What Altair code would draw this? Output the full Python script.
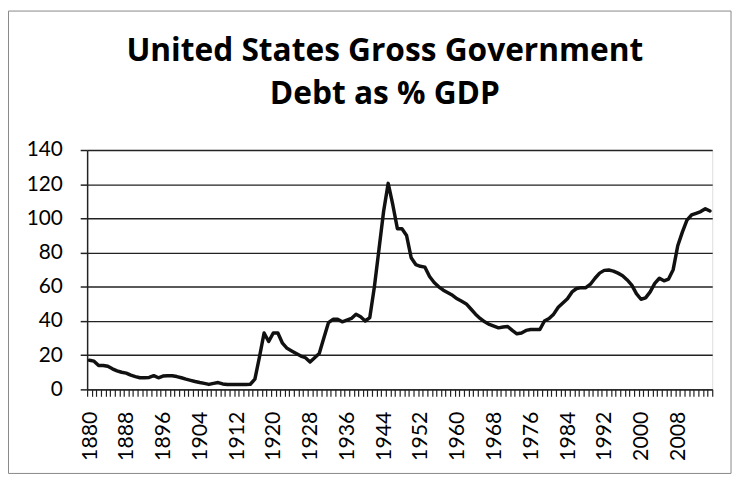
import altair as alt
import pandas as pd

years = list(range(1880, 2016))
debt = [
    17, 16.5, 14, 14, 13.5, 12, 10.8, 10, 9.5, 8.3,          # 1880-1889
    7.5, 6.8, 6.8, 7, 8, 6.8, 7.8, 8, 8, 7.5,                # 1890-1899
    6.8, 6, 5.3, 4.6, 4, 3.5, 2.9, 3.5, 4, 3.2,              # 1900-1909
    2.9, 2.9, 2.9, 2.9, 2.9, 3, 6, 19, 33, 28,               # 1910-1919
    33, 33, 27, 24, 22.5, 21, 19.5, 18.5, 16, 18.5,          # 1920-1929
    21, 30, 39, 41, 41, 39.5, 40.5, 41.5, 44, 42.5,          # 1930-1939
    40, 42, 60, 82, 104, 120.5, 108, 94, 94, 90,             # 1940-1949
    77, 73, 72, 71.5, 66, 62.5, 60, 58, 56.5, 55,            # 1950-1959
    53, 51.5, 50, 47, 44, 41.5, 39.5, 38, 37, 36,            # 1960-1969
    36.5, 36.8, 34.5, 32.5, 33, 34.5, 35, 35, 35, 40,        # 1970-1979
    41.5, 44, 48, 50.5, 53, 57, 59, 59.5, 59.5, 61.5,        # 1980-1989
    65, 68, 69.6, 69.8, 69.2, 68, 66.5, 64, 61, 56,          # 1990-1999
    52.7, 53.5, 57, 62, 65, 63.5, 64.5, 70, 84, 92,          # 2000-2009
    99, 102, 103, 104, 105.7, 104.3,                          # 2010-2015
]
y_ticks = [0, 20, 40, 60, 80, 100, 120, 140]
title_lines = ["United States Gross Government", "Debt as % GDP"]

df = pd.DataFrame({"year": years, "debt": debt})
boundaries = [years[0] - 0.5 + k for k in range(len(years) + 1)]

FONT = "Lato"
W, H = 632, 242

line = alt.Chart(df).mark_line(
    color="#111111", strokeWidth=3.5, strokeJoin="round", strokeCap="round"
).encode(
    x=alt.X(
        "year:Q",
        scale=alt.Scale(domain=[boundaries[0], boundaries[-1]], nice=False, zero=False),
        axis=alt.Axis(
            title=None,
            values=boundaries,
            labelExpr="((datum.value + 0.5) % 8 == 0 && datum.value < 2015) ? toString(datum.value + 0.5) : ''",
            labelAngle=-90,
            labelOverlap=False,
            labelFlush=False,
            labelBound=False,
            labelOffset=3,
            labelPadding=15,
            labelFont=FONT,
            labelFontSize=21.5,
            labelColor="#000000",
            tickSize=7,
            tickColor="#222222",
            tickWidth=1.2,
            domainColor="#222222",
            domainWidth=1.5,
            grid=False,
        ),
    ),
    y=alt.Y(
        "debt:Q",
        scale=alt.Scale(domain=[0, 140], nice=False),
        axis=alt.Axis(
            title=None,
            values=y_ticks,
            labelFont=FONT,
            labelFontSize=21,
            labelColor="#000000",
            labelPadding=18,
            tickSize=7,
            tickColor="#222222",
            tickWidth=1.5,
            domainColor="#222222",
            domainWidth=1.5,
            grid=True,
            gridColor="#222222",
            gridWidth=1.5,
        ),
    ),
)

frame = alt.Chart(pd.DataFrame({"k": [0]})).mark_rect(
    fillOpacity=0, stroke="#888888", strokeWidth=1
).encode(
    x=alt.value(-79.5), x2=alt.value(W + 19), y=alt.value(-140.5), y2=alt.value(H + 85)
)

chart = alt.layer(frame, line).properties(
    width=W,
    height=H,
    padding={"left": 80, "top": 141, "right": 21, "bottom": 86},
    autosize=alt.AutoSizeParams(type="none"),
    title=alt.TitleParams(
        text=title_lines,
        font="Open Sans",
        fontSize=32,
        fontWeight="bold",
        color="#000000",
        anchor="start",
        frame="group",
        align="center",
        dx=301,
        dy=101,
        lineHeight=43,
        offset=0,
    ),
).configure_view(stroke=None).configure(background="white")

chart.save("out.html", embed_options={"renderer": "svg", "actions": False})
